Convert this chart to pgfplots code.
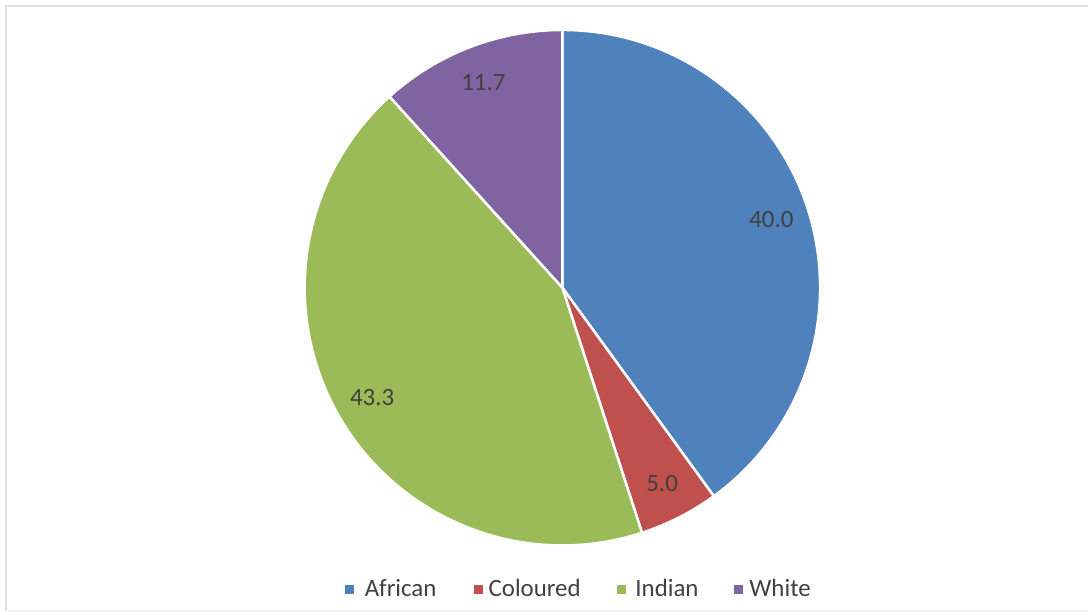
\documentclass[border=0pt]{standalone}
\usepackage{pgfplots}
\usepackage{pgfplotstable}
\pgfplotsset{compat=1.18}
\usepackage{fontspec}
\setmainfont{Carlito}
\definecolor{cAfrican}{HTML}{4F81BD}
\definecolor{cColoured}{HTML}{C0504D}
\definecolor{cIndian}{HTML}{9BBB59}
\definecolor{cWhite}{HTML}{8064A2}
\definecolor{txt}{HTML}{404040}
\newcommand\lblfont{\fontsize{25}{30}\selectfont}
\pgfplotstableread{
name value color
African 40.0 cAfrican
Coloured 5.0 cColoured
Indian 43.3 cIndian
White 11.7 cWhite
}\piedata
\begin{document}
\begin{tikzpicture}
\begin{axis}[scale only axis, width=1089bp, height=615bp,
  xmin=0, xmax=1089, ymin=0, ymax=615, y dir=reverse,
  axis lines=none, clip=false]
\fill[white] (axis cs:0,0) rectangle (axis cs:1089,615);
\draw[black!12, line width=2.5bp] (axis cs:1089,6) -- (axis cs:6,6) -- (axis cs:6,612);
\draw[black!5, line width=2bp] (axis cs:6,612) -- (axis cs:1089,612);
\def\cum{0}
\pgfplotsforeachungrouped \i in {0,...,3}{%
  \pgfplotstablegetelem{\i}{value}\of\piedata \let\val\pgfplotsretval
  \pgfplotstablegetelem{\i}{color}\of\piedata \let\col\pgfplotsretval
  \pgfmathsetmacro\sa{90-3.6*\cum}%
  \pgfmathsetmacro\ea{90-3.6*(\cum+\val)}%
  \pgfmathsetmacro\ma{(\sa+\ea)/2}%
  \edef\temp{\noexpand\filldraw[fill=\col, draw=white, line width=2.5bp, line join=round] (axis cs:563,288) -- ++(\sa:258bp) arc[start angle=\sa, end angle=\ea, radius=258bp] -- cycle;
   \noexpand\path (axis cs:563,288) ++(\ma:220bp) node[text=txt, font=\noexpand\lblfont] {\noexpand\pgfmathprintnumber[fixed, fixed zerofill, precision=1, assume math mode=true]{\val}};}%
  \temp
  \pgfmathsetmacro\cum{\cum+\val}%
}
% legend
\fill[cAfrican] (axis cs:345.5,585.5) rectangle (axis cs:354.5,594.5);
\node[anchor=base west, inner sep=0pt, text=txt, font=\lblfont] at (axis cs:365,597) {African};
\fill[cColoured] (axis cs:474.5,585.5) rectangle (axis cs:483.5,594.5);
\node[anchor=base west, inner sep=0pt, text=txt, font=\lblfont] at (axis cs:489,597) {Coloured};
\fill[cIndian] (axis cs:617.5,585.5) rectangle (axis cs:626.5,594.5);
\node[anchor=base west, inner sep=0pt, text=txt, font=\lblfont] at (axis cs:636,597) {Indian};
\fill[cWhite] (axis cs:734.5,585.5) rectangle (axis cs:743.5,594.5);
\node[anchor=base west, inner sep=0pt, text=txt, font=\lblfont] at (axis cs:750,597) {White};
\end{axis}
\end{tikzpicture}
\end{document}
